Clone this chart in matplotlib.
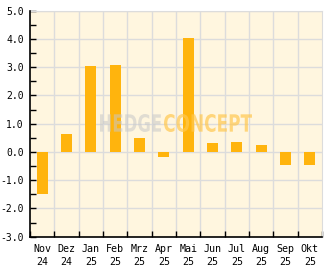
import matplotlib
matplotlib.use("Agg")
import matplotlib.pyplot as plt
import numpy as np
from matplotlib.textpath import TextPath
from matplotlib.font_manager import FontProperties
from matplotlib.patches import PathPatch
from matplotlib.transforms import Affine2D, IdentityTransform

months = ["Nov", "Dez", "Jan", "Feb", "Mrz", "Apr", "Mai", "Jun", "Jul", "Aug", "Sep", "Okt"]
years = ["24", "24", "25", "25", "25", "25", "25", "25", "25", "25", "25", "25"]
values = [-1.5, 0.62, 3.03, 3.07, 0.5, -0.18, 4.02, 0.32, 0.35, 0.24, -0.46, -0.46]
yticks = [5.0, 4.0, 3.0, 2.0, 1.0, 0.0, -1.0, -2.0, -3.0]

W, H = 332, 269
fig = plt.figure(figsize=(W / 100, H / 100), dpi=100)
fig.patch.set_facecolor("white")
ax = fig.add_axes([30 / W, (H - 236.7) / H, 292 / W, 226 / H])
ax.set_facecolor("#FFF6DF")

x = np.arange(len(values))
ax.bar(x, values, width=0.45, color="#FFB40D", zorder=3)

ax.set_xlim(-0.5, len(values) - 0.5)
ax.set_ylim(-3, 5)

mono = "DejaVu Sans Mono"
ax.set_yticks(yticks)
ax.set_yticklabels([f"{v:.1f}" for v in yticks], family=mono, fontsize=7.0)
ax.set_yticks(np.arange(-2.5, 5, 1.0), minor=True)

ax.set_xticks(x)
ax.set_xticklabels([f"{m}\n{y}" for m, y in zip(months, years)], family=mono, fontsize=7.2, linespacing=1.4)
ax.set_xticks(np.arange(-0.5, len(values), 1.0), minor=True)

ax.tick_params(axis="x", which="major", length=0, pad=5)
ax.tick_params(axis="x", which="minor", length=4, width=1, color="black", direction="in")
ax.tick_params(axis="y", which="major", length=4.5, width=1, direction="in", pad=4.5)
ax.tick_params(axis="y", which="minor", length=4, width=1, direction="in")

ax.grid(False)
for v in yticks:
    ax.axhline(v, color="#DCDCDC", lw=1, zorder=1)
for b in np.arange(0.5, len(values) - 0.5, 1.0):
    ax.axvline(b, color="#DCDCDC", lw=1, zorder=1)

for s in ["top", "right"]:
    ax.spines[s].set_color("#DCDCDC")
for s in ["left", "bottom"]:
    ax.spines[s].set_color("black")
    ax.spines[s].set_linewidth(1.2)
    ax.spines[s].set_zorder(4)

# watermark, squeezed into pixel boxes
fp = FontProperties(family="DejaVu Sans", weight="bold")


def stamp(word, x0, x1, ytop, ybot, color, alpha):
    tp = TextPath((0, 0), word, size=10, prop=fp)
    ext = tp.get_extents()
    sx = (x1 - x0) / ext.width
    sy = (ybot - ytop) / ext.height
    tr = Affine2D().translate(-ext.x0, -ext.y0).scale(sx, sy).translate(x0, H - ybot)
    patch = PathPatch(tp, transform=tr + IdentityTransform(), facecolor=color, edgecolor="none",
                      alpha=alpha, zorder=6)
    fig.patches.append(patch)


stamp("HEDGE", 100, 161, 114, 132, "#C8C8C8", 0.55)
stamp("CONCEPT", 164, 252, 114, 132, "#FFC850", 0.7)

fig.savefig("out.png", dpi=100)
